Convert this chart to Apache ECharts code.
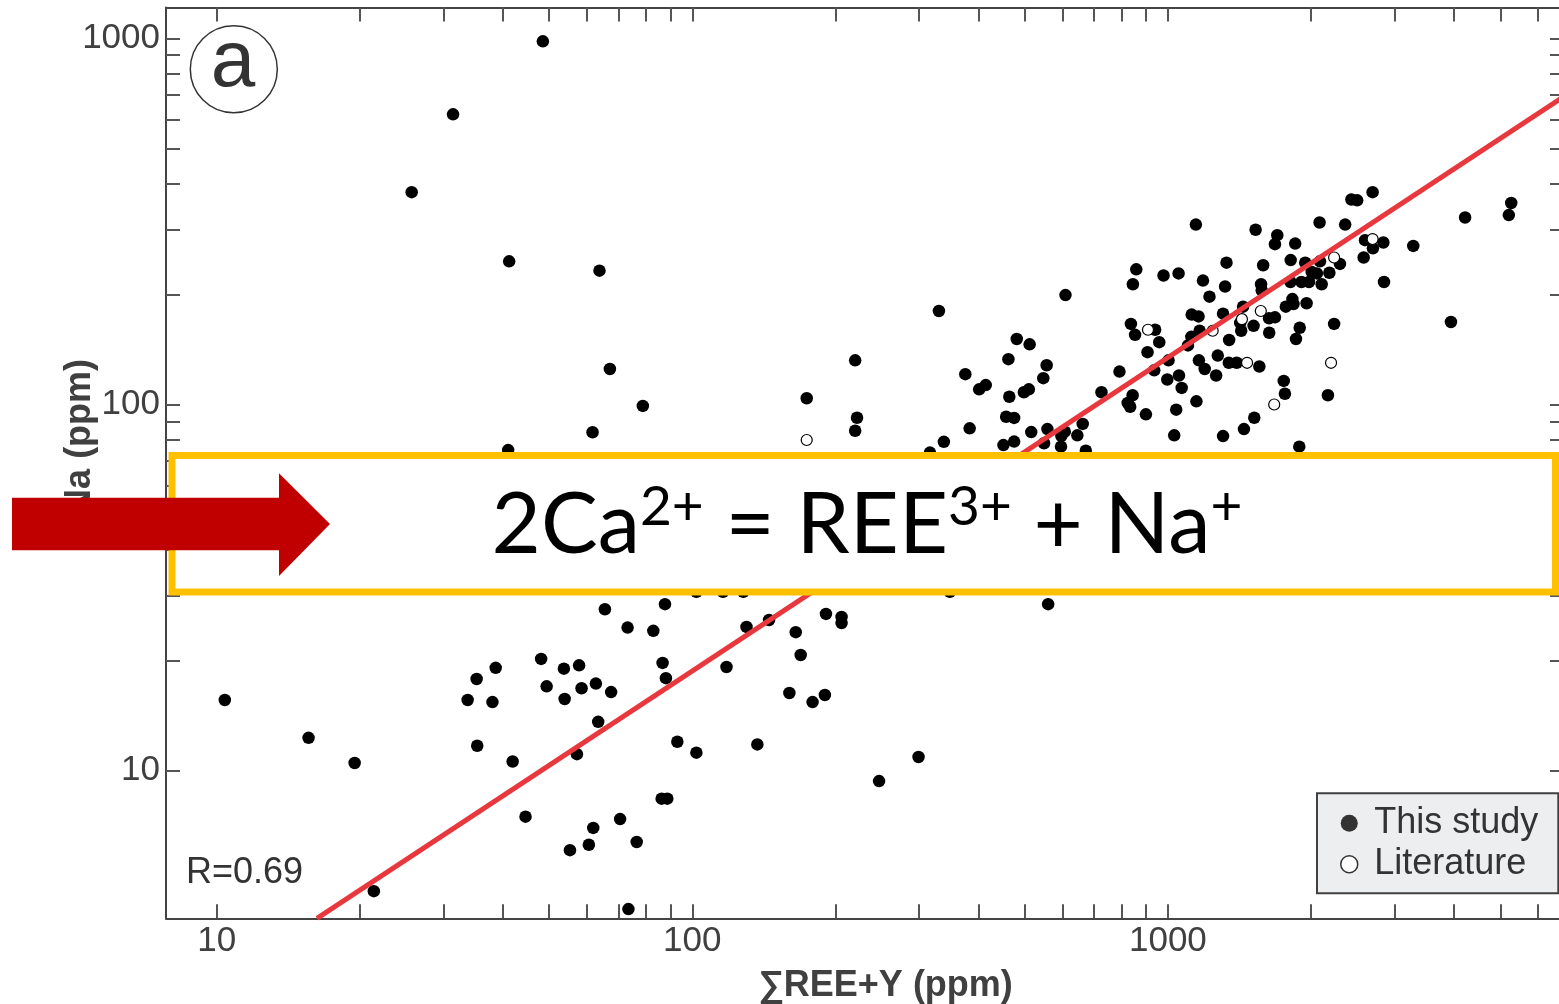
<!DOCTYPE html>
<html>
<head>
<meta charset="utf-8">
<script src="https://cdn.jsdelivr.net/npm/echarts@6/dist/echarts.min.js"></script>
<style>
html,body{margin:0;padding:0;background:#fff;}
#chart{width:1559px;height:1004px;}
</style>
</head>
<body>
<div id="chart"></div>
<script>
// ---- Data ----
const studyX = [
  48.5,31.4,25.7,41.2,63.8,67.1,78.7,61.7,41.0,174,220,222,220,330,481,462,375,401,414,464,512,383,338,457,475,451,475,316,
  1145,1529,1698,1679,1852,2084,2359,2431,2500,2694,2597,2838,2698,2580,3280,4216,5271,5210,2847,3937,
  2300,2185,2088,1944,1812,1586,1328,858,844,979,1053,1185,1319,1570,1575,1810,1909,1980,2006,2057,2105,
  1957,1827,1837,1770,1679,1632,1419,1426,1514,1633,1893,1859,2236,1223,1122,1160,1306,1439,1166,1120,1102,
  1345,1273,1343,1395,1557,1162,1195,1263,1055,1069,997,1003,936,906,959,940,853,836,1752,1762,2170,1519,
  1445,1306,1148,1041,1031,899,843,823,833,791,725,662,645,607,597,596,558,549,516,609,556,547,510,498,1889,672,
  10.4,15.6,19.5,21.4,35.2,38.6,33.7,38.0,35.3,41.9,44.6,55.3,48.1,53.7,49.4,53.9,57.8,58.5,57.2,65.5,87.6,
  73.1,82.8,62.7,67.5,86.6,88.0,63.4,93.0,102,137,118,130,145,165,169,191,206,206,160,179,190,560,299,247,
  86.2,88.6,70.5,61.9,60.6,76.4,73.4,102,116,128,348
];
const studyY = [
  981,620,380,246,232,125,99.1,84.0,75.1,104,132,92.0,84.8,180,151,133,121,110,113,105,146,86.1,79.1,92.6,91.9,77.5,79.2,73.9,
  310,300,290,274,275,314,310,363,361,380,281,277,267,252,271,324,355,329,216,168,
  242,229,246,244,248,240,244,234,213,225,228,218,210,213,205,216,216,216,230,228,213,
  189,194,188,185,173,172,167,159,164,157,162,151,166,197,176,174,177,185,159,153,145,
  150,136,130,130,127,132,125,120,120,111,117,132,124,139,148,160,155,166,116,107,106,92.0,
  85.7,82.0,102,96.8,82.4,94.0,106,101,98.6,123,108,88.5,82.4,84.3,82.0,76.7,85.7,78.4,84.1,199,128,118,110,108,76.7,74.8,
  15.6,12.3,10.5,4.69,17.8,19.1,15.6,15.4,11.7,10.6,7.49,6.07,20.2,19.0,17.0,15.7,19.4,16.8,11.1,27.6,28.5,
  24.6,24.1,17.3,16.4,19.7,17.9,13.6,12.0,11.2,11.8,19.2,24.7,25.8,23.9,20.7,26.8,26.3,25.3,16.3,15.4,16.1,28.5,10.9,9.37,
  8.39,8.39,7.38,6.98,6.28,6.39,4.19,30.8,30.8,30.8,30.8
];
const litX = [174,2236,2694,1568,1431,1242,1467,908,2203,1673];
const litY = [80.0,252,283,180,171,159,130,160,130,100];
// regression line end points (R = 0.69)
const fitX = [16.25, 6805];
const fitY = [3.954, 694];
// axis ticks and labels
const xTicks = [10,20,30,40,50,60,70,80,90,100,200,300,400,500,600,700,800,900,1000,2000,3000,4000,5000,6000];
const xLabels = [10,100,1000];
const yTicks = [10,20,30,40,50,60,70,80,90,100,200,300,400,500,600,700,800,900,1000];
const yLabels = [10,100,1000];
const X_MIN = 7.823, X_MAX = 6805;
const Y_MIN = 3.954, Y_MAX = 1213.6;

const FONT = '"Liberation Sans", Arial, sans-serif';
const studyData = studyX.map((x, i) => [x, studyY[i]]);
const litData = litX.map((x, i) => [x, litY[i]]);
const fitData = fitX.map((x, i) => [x, fitY[i]]);

const chart = echarts.init(document.getElementById('chart'), null, {renderer: 'canvas'});
const tickStyle = {show: true, inside: true, length: 14, lineStyle: {color: '#555', width: 2}};
const lineStyleAxis = {show: true, lineStyle: {color: '#444', width: 2}};
const plainNum = v => String(Math.round(v));

chart.setOption({
  animation: false,
  backgroundColor: '#fff',
  grid: {left: 166, top: 7.5, right: -5, bottom: 85.7, containLabel: false, outerBoundsMode: 'none'},
  xAxis: [
    {
      type: 'log', logBase: 10, min: X_MIN, max: X_MAX, position: 'bottom',
      axisLine: lineStyleAxis,
      axisTick: Object.assign({}, tickStyle, {customValues: xTicks}),
      axisLabel: {customValues: xLabels, formatter: plainNum, fontSize: 35, color: '#404040', fontFamily: FONT, margin: 6},
      splitLine: {show: false},
      name: '∑REE+Y (ppm)', nameLocation: 'middle', nameGap: 50, nameMoveOverlap: false,
      nameTextStyle: {fontSize: 36, fontWeight: 'bold', color: '#404040', fontFamily: FONT, padding: [0, 0, 0, 41]}
    },
    {
      type: 'log', logBase: 10, min: X_MIN, max: X_MAX, position: 'top',
      axisLine: lineStyleAxis,
      axisTick: Object.assign({}, tickStyle, {customValues: xTicks}),
      axisLabel: {show: false},
      splitLine: {show: false}
    }
  ],
  yAxis: [
    {
      type: 'log', logBase: 10, min: Y_MIN, max: Y_MAX, position: 'left',
      axisLine: lineStyleAxis,
      axisTick: Object.assign({}, tickStyle, {customValues: yTicks}),
      axisLabel: {customValues: yLabels, formatter: plainNum, fontSize: 35, color: '#404040', fontFamily: FONT, margin: 6},
      splitLine: {show: false},
      name: 'Na (ppm)', nameLocation: 'middle', nameGap: 68, nameMoveOverlap: false,
      nameTextStyle: {fontSize: 36, fontWeight: 'bold', color: '#404040', fontFamily: FONT, padding: [0, 0, 0, 52]}
    },
    {
      type: 'log', logBase: 10, min: Y_MIN, max: Y_MAX, position: 'right',
      axisLine: lineStyleAxis,
      axisTick: Object.assign({}, tickStyle, {customValues: yTicks}),
      axisLabel: {show: false},
      splitLine: {show: false}
    }
  ],
  legend: {
    orient: 'vertical', left: 1317, top: 793.3,
    padding: [12, 20, 11, 23], itemGap: 5, itemWidth: 40, itemHeight: 17,
    backgroundColor: '#EDEEF0', borderColor: '#404040', borderWidth: 2, borderRadius: 0,
    selectedMode: false,
    textStyle: {fontSize: 36, color: '#333', fontFamily: FONT, lineHeight: 36},
    data: [
      {name: 'This study', icon: 'circle', itemStyle: {color: '#333', borderWidth: 0, opacity: 1}},
      {name: 'Literature', icon: 'circle', itemStyle: {color: '#fff', borderColor: '#333', borderWidth: 1.5, opacity: 1}}
    ]
  },
  series: [
    {
      name: 'This study', type: 'scatter', xAxisIndex: 0, yAxisIndex: 0,
      data: studyData, symbol: 'circle', symbolSize: 12.5,
      itemStyle: {color: '#000', opacity: 1}, z: 2, silent: true
    },
    {
      name: 'Literature', type: 'scatter', xAxisIndex: 0, yAxisIndex: 0,
      data: litData, symbol: 'circle', symbolSize: 11,
      itemStyle: {color: '#fff', borderColor: '#000', borderWidth: 1.2, opacity: 1}, z: 3, silent: true
    },
    {
      name: 'fit', type: 'line', xAxisIndex: 0, yAxisIndex: 0,
      data: fitData, symbol: 'none', showSymbol: false, clip: true,
      lineStyle: {color: '#E8383D', width: 5}, z: 4, silent: true
    }
  ],
  graphic: [
    {type: 'circle', shape: {cx: 233.8, cy: 69.2, r: 43.5}, style: {fill: 'none', stroke: '#333', lineWidth: 1.5}, z: 50},
    {type: 'text', x: 233, y: 64, z: 50,
      style: {text: 'a', fontSize: 80, fontFamily: FONT, fill: '#333', textAlign: 'center', align: 'center', textVerticalAlign: 'middle', verticalAlign: 'middle'}},
    {type: 'text', x: 186, y: 873, z: 50,
      style: {text: 'R=0.69', fontSize: 36, fontFamily: FONT, fill: '#333', textAlign: 'left', align: 'left', textVerticalAlign: 'middle', verticalAlign: 'middle'}},
    {type: 'rect', z: 100, shape: {x: 172, y: 455.5, width: 1383.5, height: 136.5},
      style: {fill: '#fff', stroke: '#FFC000', lineWidth: 7}},
    {type: 'text', x: 867, y: 524, z: 101,
      style: {
        text: '{n|2Ca}{s|2+}{n| = REE}{s|3+}{n| + Na}{s|+}',
        textAlign: 'center', align: 'center', textVerticalAlign: 'middle', verticalAlign: 'middle',
        rich: {
          n: {fontSize: 85, fontFamily: 'Lato', fill: '#000', lineHeight: 88, verticalAlign: 'bottom'},
          s: {fontSize: 55, fontFamily: 'Lato', fill: '#000', lineHeight: 55, verticalAlign: 'top'}
        }
      }},
    {type: 'polygon', z: 102,
      shape: {points: [[12, 497.8], [279, 497.8], [279, 473.3], [330, 524], [279, 576], [279, 550.3], [12, 550.3]]},
      style: {fill: '#C00000'}}
  ]
});
</script>
</body>
</html>
